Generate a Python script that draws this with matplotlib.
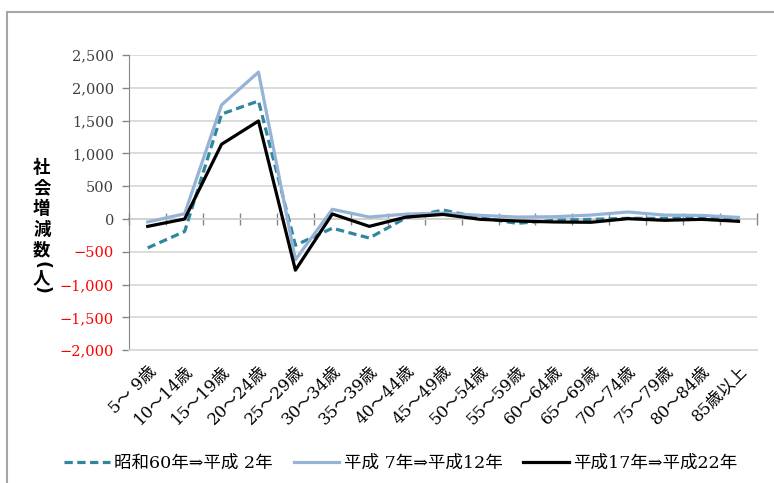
import numpy as np
import matplotlib
matplotlib.use('Agg')
import matplotlib.pyplot as plt
from matplotlib.patches import Rectangle

plt.rcParams['font.family'] = ['DejaVu Serif', 'Noto Sans CJK JP', 'DejaVu Sans']

categories = ['5～ 9歳', '10～14歳', '15～19歳', '20～24歳', '25～29歳', '30～34歳',
              '35～39歳', '40～44歳', '45～49歳', '50～54歳', '55～59歳', '60～64歳',
              '65～69歳', '70～74歳', '75～79歳', '80～84歳', '85歳以上']
s60_h2 = [-440, -190, 1600, 1800, -400, -140, -290, 20, 137, 20, -66, -20, -5, 10, 10, 25, 10]
h7_h12 = [-45, 80, 1740, 2240, -620, 148, 30, 75, 90, 56, 30, 35, 60, 107, 60, 55, 25]
h17_h22 = [-112, 0, 1140, 1495, -780, 77, -112, 30, 70, -5, -30, -45, -50, 5, -20, -5, -35]
series_names = ['昭和60年⇒平成 2年', '平成 7年⇒平成12年', '平成17年⇒平成22年']
yticks = np.arange(-2000, 2501, 500)
ylabel_chars = ['社', '会', '増', '減', '数', '(', '人', ')']

fig = plt.figure(figsize=(7.74, 4.83), dpi=100)
ax = fig.add_axes([0.167, 0.275, 0.811, 0.611])

x = np.arange(len(categories)) + 0.5
ax.plot(x, s60_h2, color='#31859C', lw=2.3, ls=(0, (2.6, 1.4)), label=series_names[0], zorder=3)
ax.plot(x, h7_h12, color='#95B3D7', lw=2.3, label=series_names[1], zorder=3)
ax.plot(x, h17_h22, color='black', lw=2.3, label=series_names[2], zorder=4)

ax.set_xlim(0, len(categories))
ax.set_ylim(-2000, 2500)
ax.set_yticks(yticks)
ax.set_yticklabels([f'{v:,}'.replace('-', '−') for v in yticks], fontsize=10.5)
for lab, v in zip(ax.get_yticklabels(), yticks):
    lab.set_color('#FF0000' if v < 0 else '#404040')
ax.grid(axis='y', color='#D9D9D9', lw=1.3)
ax.set_axisbelow(True)
ax.tick_params(axis='y', length=5, color='#868686', width=1, pad=6)

ax.set_xticks(x)
ax.set_xticklabels(categories, rotation=45, ha='right', rotation_mode='anchor', fontsize=12)
ax.tick_params(axis='x', length=0, pad=9)

for s in ['top', 'right']:
    ax.spines[s].set_visible(False)
ax.spines['left'].set_color('#868686')
ax.spines['bottom'].set_color('#D9D9D9')
ax.spines['bottom'].set_linewidth(1.3)

# horizontal axis crossing at zero
zero_pos = (0 - (-2000)) / 4500
sec = ax.secondary_xaxis(zero_pos)
sec.set_xticks(np.arange(0, len(categories) + 1))
sec.set_xticklabels([])
sec.tick_params(direction='inout', length=8, color='#868686', width=1)
sec.spines['bottom'].set_color('#868686')
sec.spines['bottom'].set_linewidth(1.2)

# vertical (tategaki) axis title, one character at a time
ypix = [168, 188, 209, 230, 250, 265, 278, 290]
for ch, yp in zip(ylabel_chars, ypix):
    if ch in '()':
        fig.text(0.054, 1 - yp / 483, ch, ha='center', va='center', rotation=-90,
                 fontsize=12.5, fontweight='bold', family=['DejaVu Sans'])
    else:
        fig.text(0.054, 1 - yp / 483, ch, ha='center', va='center',
                 fontsize=12.5, fontweight='bold', family=['Noto Sans CJK JP'])

ax.legend(loc='center', bbox_to_anchor=(0.518, 0.041), bbox_transform=fig.transFigure,
          ncol=3, frameon=False, fontsize=12.6, handlelength=2.6, columnspacing=1.2,
          handletextpad=0.25)

fig.patches.append(Rectangle((0.009, -0.05), 1.05, 0.975 + 0.05, transform=fig.transFigure,
                             fill=False, ec='#A6A6A6', lw=1.5))

fig.savefig('out.png', dpi=100)
